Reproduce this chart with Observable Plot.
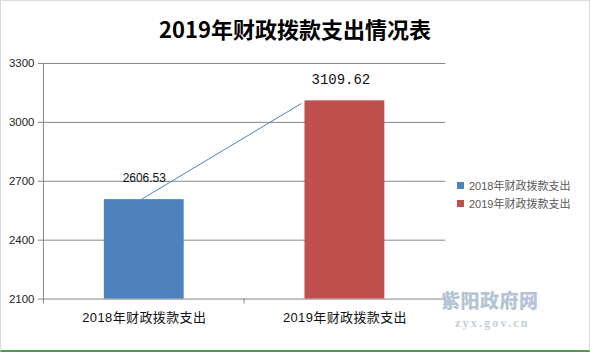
<!DOCTYPE html>
<html>
<head>
<meta charset="utf-8">
<script src="https://cdn.jsdelivr.net/npm/d3@7"></script>
<script src="https://cdn.jsdelivr.net/npm/@observablehq/plot@0.6"></script>
<style>
  html, body { margin: 0; padding: 0; background: #fff; }
  #frame {
    position: relative; width: 590px; height: 352px; box-sizing: border-box;
    border-left: 1px solid #d9d9d9; border-top: 1px solid #d9d9d9; border-right: 1px solid #d9d9d9;
    border-bottom: 2px solid #4a9e48; overflow: hidden;
    font-family: "Liberation Sans", "Noto Sans CJK SC", sans-serif;
  }
  #title {
    position: absolute; left: -1px; top: 12px; width: 590px; text-align: center;
    font-family: "Noto Sans CJK SC", sans-serif; font-weight: bold; font-size: 22px; line-height: 30px; color: #000;
  }
  #chart { position: absolute; left: -1px; top: 49px; }
  #chart svg g[aria-label^="y-axis"] text { fill: #222; }
  #chart svg g[aria-label^="x-axis"] text { fill: #111; }
  #legend { position: absolute; left: 456px; top: 175px; font-size: 11px; color: #595959; }
  .lg-row { display: flex; align-items: center; height: 18px; }
  .lg-sw { width: 7px; height: 7px; margin-right: 5px; }
  #wm1 { position: absolute; left: 440px; top: 286px; font-family: "Noto Sans CJK SC", sans-serif; font-weight: 900;
    font-size: 19px; line-height: 26px; color: #b5c3d5; letter-spacing: 0.5px; }
  #wm2 { position: absolute; left: 454px; top: 314px; font-family: "Liberation Serif", serif; font-weight: bold;
    font-size: 12px; line-height: 16px; color: #c3cdd9; letter-spacing: 2.2px; }
</style>
</head>
<body>
<div id="frame">
  <div id="title"></div>
  <div id="chart"></div>
  <div id="legend"></div>
  <div id="wm1"></div>
  <div id="wm2"></div>
</div>
<script>
const titleText = "2019年财政拨款支出情况表";
const categories = ["2018年财政拨款支出", "2019年财政拨款支出"];
const values = [2606.53, 3109.62];
const valueLabels = ["2606.53", "3109.62"];
const colors = ["#4f81bd", "#c0504d"];
const yTicks = [2100, 2400, 2700, 3000, 3300];
const trendStart = 2606.53;
const trendEnd = 3094;
const watermark = ["紫阳政府网", "zyx.gov.cn"];

document.getElementById("title").textContent = titleText;
document.getElementById("wm1").textContent = watermark[0];
document.getElementById("wm2").textContent = watermark[1];

const legend = document.getElementById("legend");
categories.forEach((c, i) => {
  const row = document.createElement("div");
  row.className = "lg-row";
  const sw = document.createElement("div");
  sw.className = "lg-sw";
  sw.style.background = colors[i];
  const t = document.createElement("span");
  t.textContent = c;
  row.appendChild(sw); row.appendChild(t);
  legend.appendChild(row);
});

const data = categories.map((c, i) => ({cat: c, value: values[i], label: valueLabels[i]}));

// boundary ticks on the category axis + trend line, drawn through Plot's scales
function extras(index, scales, channels, dimensions) {
  const x = scales.x, y = scales.y;
  const bw = x.bandwidth ? x.bandwidth() : 0;
  const step = x.step ? x.step() : bw;
  const g = d3.create("svg:g");
  const y0 = y(yTicks[0]);
  const cats = x.domain();
  const bounds = [];
  cats.forEach((c) => { bounds.push(x(c) - (step - bw) / 2); });
  bounds.push(x(cats[cats.length - 1]) + bw + (step - bw) / 2);
  for (const bx of bounds) {
    g.append("line").attr("x1", bx).attr("x2", bx).attr("y1", y0).attr("y2", y0 + 5)
      .attr("stroke", "#868686").attr("stroke-width", 1);
  }
  g.append("line")
    .attr("x1", x(categories[0]) + bw / 2 - 2).attr("y1", y(trendStart))
    .attr("x2", x(categories[1]) - 3).attr("y2", y(trendEnd))
    .attr("stroke", "#4f81bd").attr("stroke-width", 1);
  return g.node();
}

const chart = Plot.plot({
  width: 590,
  height: 302,
  marginLeft: 43,
  marginRight: 144,
  marginTop: 13,
  marginBottom: 53,
  style: {fontFamily: "'Liberation Sans', 'Noto Sans CJK SC', sans-serif", fontSize: "11.5px", color: "#868686", background: "transparent", overflow: "visible"},
  x: {domain: categories, paddingInner: 0.6, paddingOuter: 0.3, tickSize: 0, tickPadding: 14, label: null},
  y: {domain: [yTicks[0], yTicks[yTicks.length - 1]], ticks: yTicks, tickFormat: d => String(d), tickSize: 5, tickPadding: 4, label: null, line: true},
  color: {domain: categories, range: colors},
  marks: [
    Plot.ruleY(yTicks, {stroke: "#868686", strokeWidth: 1}),
    Plot.barY(data, {x: "cat", y1: () => yTicks[0], y2: "value", fill: "cat"}),
    extras,
    Plot.text(data.slice(0, 1), {x: "cat", y: "value", text: "label", dy: -22, fill: "#111", fontSize: 12, fontFamily: "'Liberation Sans', sans-serif"}),
    Plot.text(data.slice(1), {x: "cat", y: "value", text: "label", dy: -21, dx: -4, fill: "#111", fontSize: 14, fontFamily: "'Liberation Mono', monospace"})
  ]
});
chart.querySelectorAll('g[aria-label^="x-axis"] text').forEach(t => { t.style.fontSize = "13px"; t.style.letterSpacing = "0.4px"; });
document.getElementById("chart").appendChild(chart);
</script>
</body>
</html>
